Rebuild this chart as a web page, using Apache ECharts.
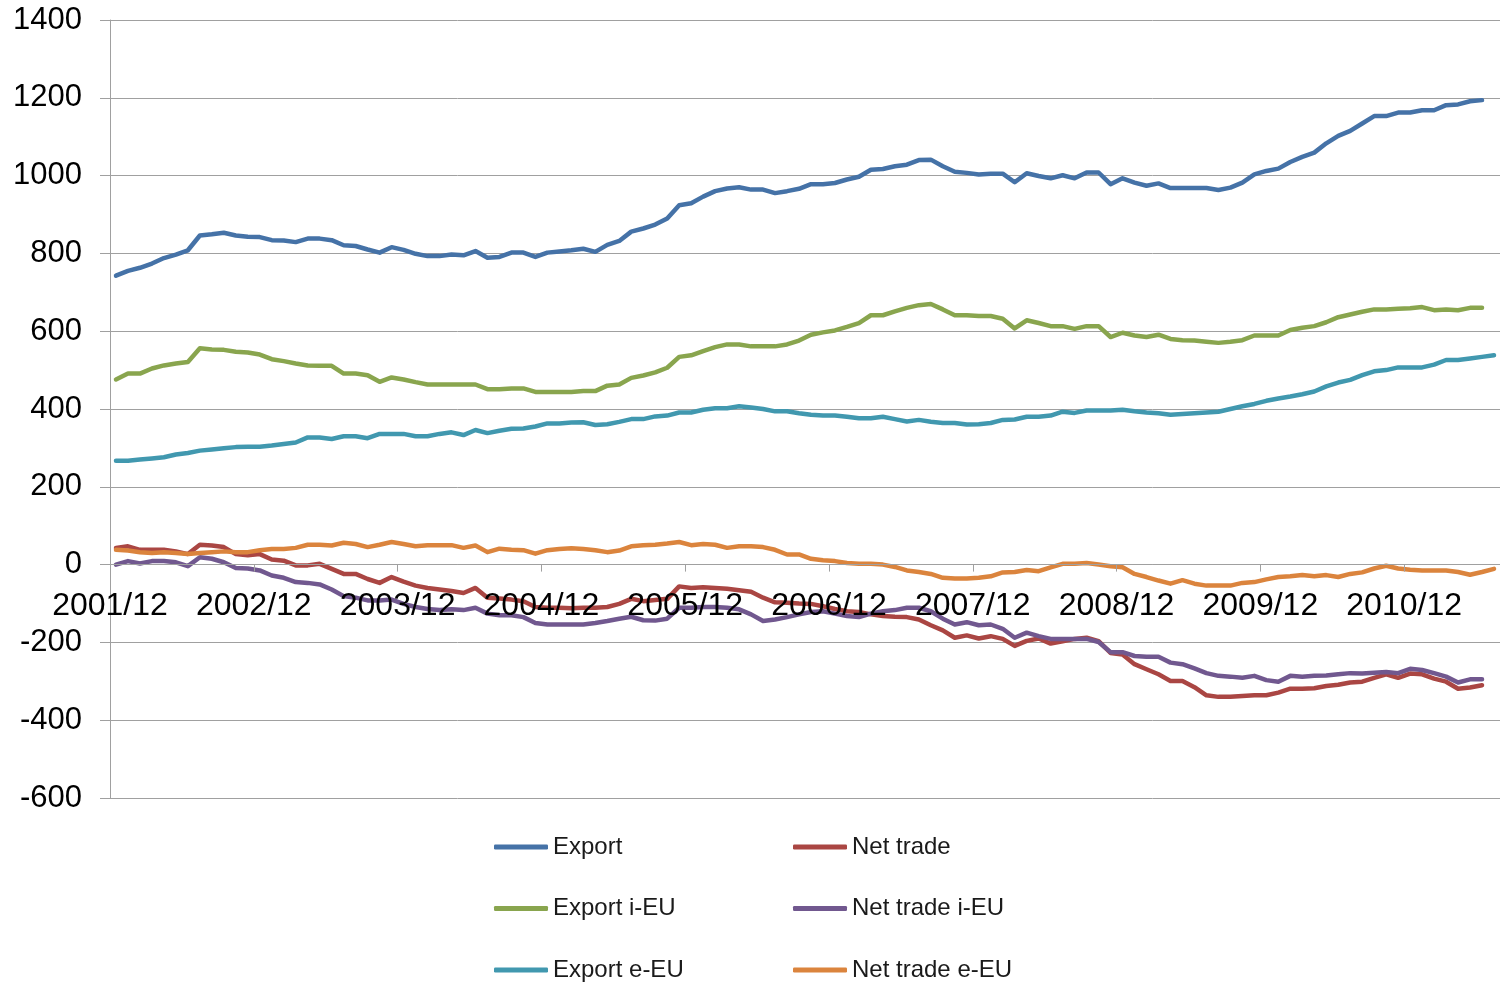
<!DOCTYPE html>
<html><head><meta charset="utf-8">
<script src="https://cdn.jsdelivr.net/npm/echarts@6/dist/echarts.min.js"></script>
<style>html,body{margin:0;padding:0;background:#fff;overflow:hidden}#chart{width:1500px;height:985px}</style>
</head><body><div id="chart"></div>
<script>
// Tick labels (one every 12 months, starting 2001/12)
const tickLabels = ['2001/12','2002/12','2003/12','2004/12','2005/12','2006/12','2007/12','2008/12','2009/12','2010/12'];
const yTicks = { min: -600, max: 1400, step: 200 };

// Monthly series, first value = 2001/12
const exportTotal = [743,755,763,774,788,797,808,846,849,853,846,843,842,834,833,829,838,838,834,821,819,810,802,816,809,799,793,793,797,795,806,789,791,802,802,791,802,805,808,
  812,804,822,832,856,864,874,890,924,929,946,960,967,970,964,964,955,960,966,978,978,981,990,997,1015,1017,1024,1028,1040,1041,1024,1010,1007,1003,1005,1005,983,
  1006,999,993,1001,993,1008,1008,978,993,982,974,980,968,968,968,968,963,969,982,1003,1012,1018,1035,1048,1059,1083,1102,1115,1134,1153,1153,1162,1162,1168,1168,1181,1183,1191,1194];
const exportIEU = [476,491,491,504,512,517,521,556,553,552,547,545,540,528,523,517,512,511,511,491,491,487,470,481,476,469,463,463,463,463,463,451,451,453,453,444,444,444,444,
  446,446,460,463,480,486,494,506,534,538,549,559,566,566,561,561,561,566,576,591,597,602,611,621,641,641,651,660,667,670,656,641,641,639,639,632,607,
  628,621,613,613,606,613,613,585,596,589,585,591,580,577,576,573,570,573,577,589,589,589,603,609,613,623,636,643,650,656,656,658,659,662,654,656,654,660,660];
const exportEEU = [267,267,270,273,276,283,287,293,296,299,302,303,303,306,310,314,327,327,323,330,330,325,336,336,336,330,330,336,340,333,346,338,344,349,350,355,363,363,365,
  366,359,361,367,374,374,381,383,391,391,398,402,402,407,404,400,394,394,389,385,383,383,380,376,376,380,374,368,372,367,364,364,360,361,364,372,373,
  380,380,383,393,390,396,396,396,398,394,391,389,385,387,389,391,393,400,407,413,421,427,432,438,445,458,468,475,487,497,500,507,507,507,514,526,526,530,534,538];
const netTrade = [43,47,38,38,38,34,27,51,49,45,27,24,27,13,10,-2,-2,2,-11,-24,-24,-37,-47,-32,-44,-54,-60,-64,-68,-73,-60,-85,-87,-90,-94,-109,-111,-111,-112,
  -111,-111,-109,-101,-88,-94,-91,-88,-56,-60,-58,-60,-62,-66,-70,-85,-97,-98,-100,-101,-107,-114,-120,-122,-128,-132,-134,-135,-141,-156,-169,-188,-182,-190,-184,-191,-209,
  -196,-190,-203,-197,-191,-188,-197,-227,-231,-256,-269,-282,-299,-299,-315,-336,-340,-340,-338,-336,-336,-329,-319,-319,-318,-312,-309,-303,-301,-291,-282,-291,-280,-282,-293,-301,-319,-316,-310];
const netTradeIEU = [0,9,3,9,9,6,-4,19,15,6,-9,-10,-15,-28,-34,-45,-47,-51,-64,-81,-85,-92,-92,-90,-101,-109,-114,-117,-115,-117,-111,-126,-130,-130,-135,-150,-154,-154,-154,
  -154,-150,-145,-139,-134,-143,-144,-139,-111,-111,-109,-109,-111,-115,-128,-145,-141,-135,-128,-122,-120,-126,-132,-135,-126,-120,-117,-111,-111,-120,-139,-154,-148,-156,-154,-165,-188,
  -175,-184,-191,-191,-191,-191,-199,-225,-225,-235,-237,-237,-252,-256,-267,-279,-286,-288,-291,-286,-297,-301,-286,-288,-286,-285,-282,-279,-280,-278,-276,-279,-268,-271,-279,-288,-303,-295,-295];
const netTradeEEU = [38,36,32,30,32,30,27,30,32,34,32,32,37,40,40,43,51,51,49,56,53,45,51,58,53,47,50,50,50,43,49,32,41,38,37,28,37,40,42,
  40,37,32,36,47,50,51,54,58,50,53,51,43,47,47,45,38,26,26,15,11,9,4,2,2,0,-6,-15,-19,-24,-34,-36,-36,-34,-30,-20,-19,
  -14,-17,-7,2,2,4,0,-4,-7,-24,-32,-41,-49,-40,-49,-54,-54,-54,-47,-45,-38,-32,-30,-27,-30,-27,-32,-24,-20,-10,-3,-10,-13,-15,-15,-15,-19,-26,-19,-11];

const seriesNames = ['Export','Net trade','Export i-EU','Net trade i-EU','Export e-EU','Net trade e-EU'];
const seriesValues = [exportTotal, netTrade, exportIEU, netTradeIEU, exportEEU, netTradeEEU];
const seriesColors = ['#4572A7','#AA4643','#89A54E','#71588F','#4198AF','#DB843D'];

// month categories (label for each monthly slot)
const nMonths = Math.max(...seriesValues.map(a => a.length));
const months = [];
for (let i = 0; i < nMonths; i++) {
  const m = (12 + i - 1) % 12 + 1, y = 2001 + Math.floor((12 + i - 1) / 12);
  months.push(y + '/' + m);
}

const FONT = '"Liberation Sans", Arial, sans-serif';
const GRID = '#a0a0a0';
const PLOT_TOP = 20, PLOT_BOTTOM = 798;
const zeroOffset = (PLOT_BOTTOM - PLOT_TOP) * (0 - yTicks.min) / (yTicks.max - yTicks.min);

const legendCommon = {
  orient: 'vertical', top: 835, height: 200, icon: 'roundRect', padding: 0,
  itemWidth: 54, itemHeight: 5, itemGap: 37.5,
  textStyle: { fontSize: 24, lineHeight: 24, color: '#1a1a1a', fontFamily: FONT }
};

const chart = echarts.init(document.getElementById('chart'), null, { renderer: 'canvas' });
chart.setOption({
  animation: false,
  backgroundColor: '#fff',
  grid: { left: 110, top: PLOT_TOP, right: -9, bottom: 985 - PLOT_BOTTOM },
  xAxis: {
    type: 'value', min: 0, max: nMonths, interval: 12, z: 10,
    position: 'bottom', offset: -zeroOffset,
    axisLine: { show: true, onZero: false, lineStyle: { color: GRID, width: 1 } },
    axisTick: { show: true, length: 7, lineStyle: { color: GRID } },
    splitLine: { show: false },
    axisLabel: {
      show: true, margin: 26, fontSize: 32, lineHeight: 32, color: '#000', fontFamily: FONT,
      showMaxLabel: false,
      formatter: v => (v % 12 === 0 && tickLabels[v / 12]) ? tickLabels[v / 12] : ''
    }
  },
  yAxis: {
    type: 'value', min: yTicks.min, max: yTicks.max, interval: yTicks.step,
    axisLine: { show: true, onZero: false, lineStyle: { color: GRID, width: 1 } },
    axisTick: { show: true, length: 10, lineStyle: { color: GRID } },
    splitLine: { show: true, lineStyle: { color: GRID, width: 1 } },
    axisLabel: { margin: 28, fontSize: 31, color: '#000', fontFamily: FONT, formatter: v => String(v) }
  },
  legend: [
    Object.assign({ data: ['Export','Export i-EU','Export e-EU'], left: 494 }, legendCommon),
    Object.assign({ data: ['Net trade','Net trade i-EU','Net trade e-EU'], left: 793 }, legendCommon)
  ],
  series: seriesNames.map((name, s) => ({
    name, type: 'line', symbol: 'none', color: seriesColors[s],
    lineStyle: { width: 4.5, color: seriesColors[s], cap: 'round', join: 'round' },
    data: seriesValues[s].map((v, i) => [i + 0.5, v])
  }))
});
</script></body></html>
